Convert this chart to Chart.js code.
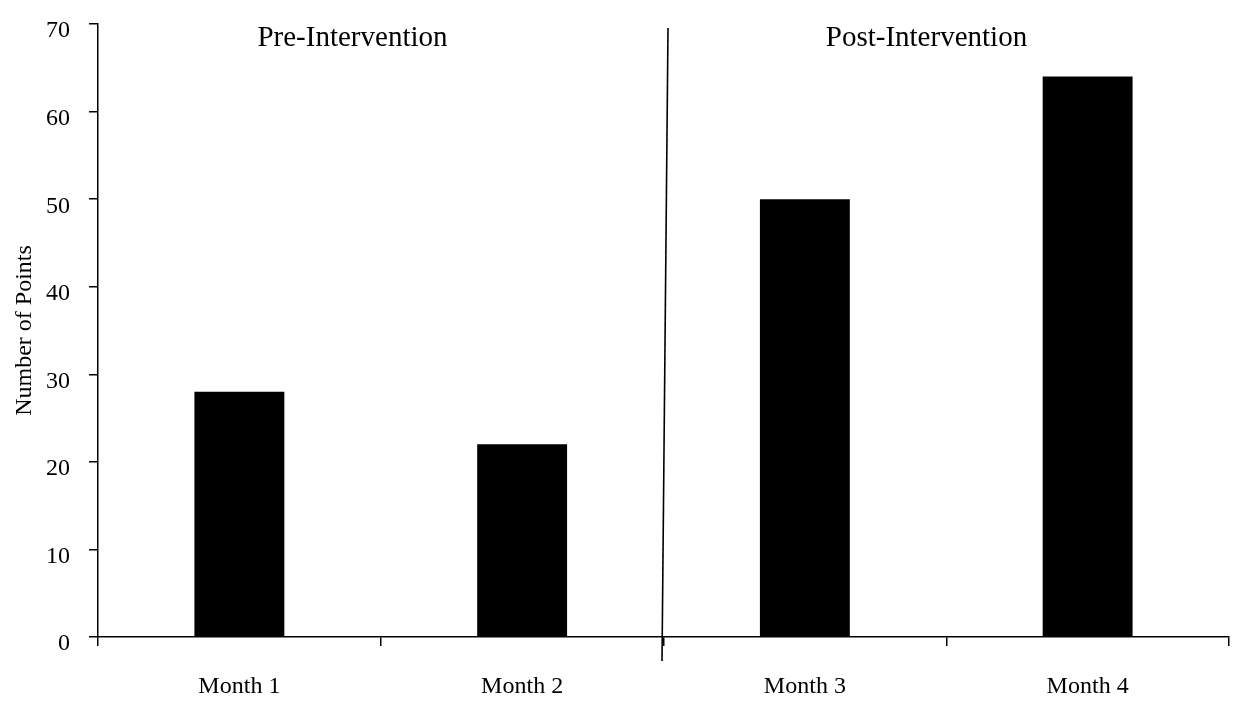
<!DOCTYPE html>
<html lang="en">
  <head>
    <meta charset="utf-8" />
    <title>Number of Points by Month</title>
    <style>
      * {
        margin: 0;
        padding: 0;
      }
      body {
        background: #fff;
      }
      .chartBox {
        width: 1239px;
        height: 709px;
      }
    </style>
  </head>
  <body>
    <div class="chartBox">
      <canvas id="myChart"></canvas>
    </div>

    <script src="https://cdn.jsdelivr.net/npm/chart.js"></script>

    <script>
      // data
      const months = ["Month 1", "Month 2", "Month 3", "Month 4"];
      const points = [28, 22, 50, 64];
      const yTicks = [0, 10, 20, 30, 40, 50, 60, 70];

      // phase labels and where they sit along the category axis
      const phaseNames = ["Pre-Intervention", "Post-Intervention"];
      const phasePositions = [0.4, 2.43];
      const dividerAt = 1.5;

      const serif = "'Liberation Serif', 'Times New Roman', serif";

      // divider line + phase headings
      const phasePlugin = {
        id: "phases",
        afterDatasetsDraw(chart) {
          const { ctx, scales: { x, y }, chartArea } = chart;
          const mid = x.getPixelForValue(dividerAt);
          ctx.save();
          ctx.strokeStyle = "#000";
          ctx.lineWidth = 1.6;
          ctx.beginPath();
          ctx.moveTo(mid + 4.5, y.getPixelForValue(70) + 4);
          ctx.lineTo(mid - 1.5, chartArea.bottom + 24);
          ctx.stroke();

          ctx.fillStyle = "#000";
          ctx.font = "29px " + serif;
          ctx.textAlign = "center";
          ctx.textBaseline = "middle";
          phaseNames.forEach((name, i) => {
            ctx.fillText(name, x.getPixelForValue(phasePositions[i]), chartArea.top + 14);
          });
          ctx.restore();
        },
      };

      const data = {
        labels: months,
        datasets: [
          {
            label: "Number of Points",
            data: points,
            backgroundColor: "#000",
            borderWidth: 0,
            barPercentage: 1,
            categoryPercentage: 0.318,
          },
        ],
      };

      const config = {
        type: "bar",
        data: data,
        options: {
          responsive: false,
          animation: false,
          layout: {
            padding: { top: 24, right: 10, bottom: 0, left: 0 },
          },
          plugins: {
            legend: { display: false },
            tooltip: { enabled: false },
          },
          scales: {
            x: {
              grid: {
                display: true,
                offset: true,
                drawOnChartArea: false,
                drawTicks: true,
                tickLength: 9,
                color: "#000",
                lineWidth: 1.5,
              },
              border: { display: true, color: "#000", width: 1.5 },
              ticks: {
                color: "#000",
                font: { family: serif, size: 24 },
                padding: 26,
                maxRotation: 0,
              },
              afterFit(scale) {
                scale.height = 72;
              },
            },
            y: {
              min: 0,
              max: 70,
              afterBuildTicks(scale) {
                scale.ticks = yTicks.map((v) => ({ value: v }));
              },
              grid: {
                display: true,
                drawOnChartArea: false,
                drawTicks: true,
                tickLength: 9,
                color: "#000",
                lineWidth: 1.5,
              },
              border: { display: true, color: "#000", width: 1.5 },
              ticks: {
                color: "#000",
                font: { family: serif, size: 24, lineHeight: 0.6 },
                padding: 19,
                // empty first line nudges the number a little below its tick
                callback: (v) => ["", String(v)],
              },
              title: {
                display: true,
                text: "Number of Points",
                color: "#000",
                font: { family: serif, size: 24 },
                padding: { top: 10, bottom: 0 },
              },
              afterFit(scale) {
                scale.width = 98;
                scale.paddingTop = 0;
                scale.paddingBottom = 0;
              },
            },
          },
        },
        plugins: [phasePlugin],
      };

      const canvas = document.getElementById("myChart");
      canvas.width = 1239;
      canvas.height = 709;
      const myChart = new Chart(canvas, config);
    </script>
  </body>
</html>
